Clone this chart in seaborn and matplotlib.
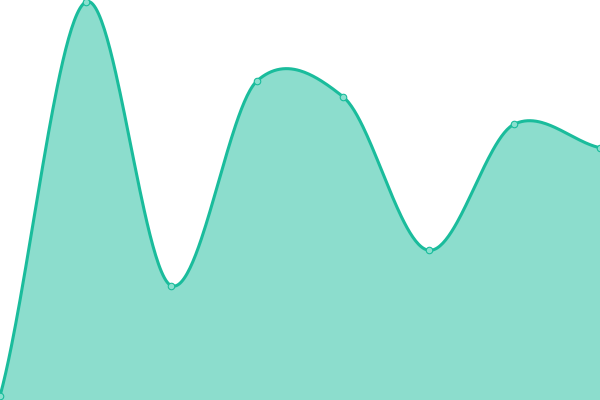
import numpy as np
import pandas as pd
import matplotlib
matplotlib.use("Agg")
import matplotlib.pyplot as plt
import seaborn as sns

x_vals = [0, 1, 2, 3, 4, 5, 6, 7]
y_vals = [0, 100, 28, 80, 76, 37, 69, 63]

line_color = "#1abc9c"


def catmull_rom(xs, ys, steps=60, tension=1.0):
    xs = np.asarray(xs, float)
    ys = np.asarray(ys, float)
    n = len(xs)
    out_x, out_y = [], []
    for i in range(n - 1):
        p0 = ys[max(i - 1, 0)]
        p1, p2 = ys[i], ys[i + 1]
        p3 = ys[min(i + 2, n - 1)]
        x0 = xs[max(i - 1, 0)]
        x3 = xs[min(i + 2, n - 1)]
        m1 = tension * (p2 - p0) / (xs[i + 1] - x0)
        m2 = tension * (p3 - p1) / (x3 - xs[i])
        h = xs[i + 1] - xs[i]
        t = np.linspace(0, 1, steps, endpoint=(i == n - 2))
        h00 = 2 * t**3 - 3 * t**2 + 1
        h10 = t**3 - 2 * t**2 + t
        h01 = -2 * t**3 + 3 * t**2
        h11 = t**3 - t**2
        out_x.append(xs[i] + t * h)
        out_y.append(h00 * p1 + h10 * h * m1 + h01 * p2 + h11 * h * m2)
    return np.concatenate(out_x), np.concatenate(out_y)


sns.set_style("white")
fig = plt.figure(figsize=(6, 4), dpi=100)
ax = fig.add_axes([0, 0, 1, 1])

cx, cy = catmull_rom(x_vals, y_vals, tension=0.8)
curve = pd.DataFrame({"x": cx, "y": cy})
points = pd.DataFrame({"x": x_vals, "y": y_vals})

ymin = -1.0
ax.fill_between(cx, cy, ymin, color=line_color, alpha=0.5, linewidth=0)
sns.lineplot(data=curve, x="x", y="y", ax=ax, color=line_color, linewidth=2.2, sort=False)
sns.scatterplot(data=points, x="x", y="y", ax=ax, s=22, color="#8ae0cf",
                edgecolor=line_color, linewidth=0.8, zorder=5)

ax.set_xlim(0, 7)
ax.set_ylim(ymin, 100.5)
ax.axis("off")
fig.savefig("out.png", dpi=100)
